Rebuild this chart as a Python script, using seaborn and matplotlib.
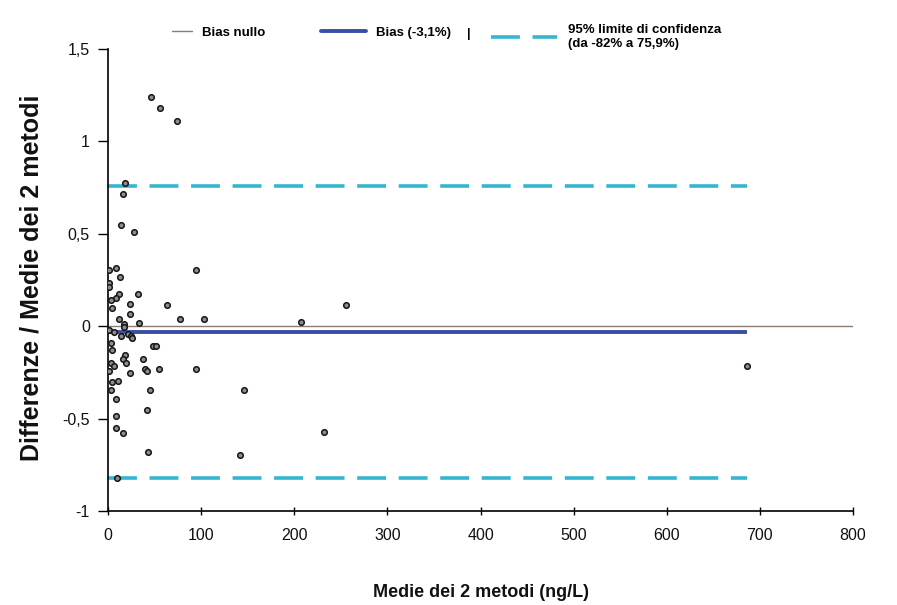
import numpy as np
import pandas as pd
import matplotlib
matplotlib.use("Agg")
import matplotlib.pyplot as plt
import seaborn as sns
from matplotlib.lines import Line2D

# Bland-Altman data: media dei 2 metodi (ng/L) e differenza relativa
media = [46, 56, 74, 18.6, 16.5, 14.3, 28.3, 8.6, 0.7, 94.7,
         12.9, 0.7, 0.7, 32, 12.2, 8.6, 3.2, 4.3, 24, 24,
         63, 12.2, 33.7, 77.5, 102.6, 17.6, 17.6, 1.4, 6.8, 14,
         21, 24.8, 25.8, 3.2, 48, 51.7, 4.3, 18.6, 15.8, 19.4,
         38, 3.2, 6.8, 0.7, 24, 40, 42, 55, 94.7, 4.3,
         11, 3.2, 45.6, 145.6, 8.6, 42, 8.6, 8.6, 16.5, 43.4,
         142, 9.3, 256, 207, 232, 686]
diff_rel = [1.24, 1.18, 1.11, 0.774, 0.715, 0.55, 0.508, 0.314, 0.305, 0.305,
            0.266, 0.233, 0.215, 0.176, 0.176, 0.155, 0.14, 0.10, 0.122, 0.068,
            0.118, 0.038, 0.018, 0.04, 0.04, 0.01, -0.005, -0.018, -0.03, -0.05,
            -0.043, -0.054, -0.061, -0.09, -0.108, -0.108, -0.13, -0.156, -0.174, -0.196,
            -0.178, -0.196, -0.214, -0.242, -0.255, -0.233, -0.242, -0.233, -0.233, -0.303,
            -0.295, -0.345, -0.345, -0.345, -0.393, -0.453, -0.483, -0.548, -0.578, -0.677,
            -0.695, -0.82, 0.114, 0.023, -0.57, -0.212]

bias = -0.031
lim_sup = 0.759
lim_inf = -0.82
x_max_axis = 800

yticks = [-1, -0.5, 0, 0.5, 1, 1.5]
ytick_labels = ['-1', '-0,5', '0', '0,5', '1', '1,5']
xticks = [0, 100, 200, 300, 400, 500, 600, 700, 800]

df = pd.DataFrame({'media': media, 'diff': diff_rel})

sns.set_style("white")
plt.rcParams['font.family'] = ['Liberation Sans', 'DejaVu Sans']
plt.rcParams['text.color'] = 'black'

fig = plt.figure(figsize=(8.97, 6.05), dpi=100)
ax = fig.add_axes([0.1204, 0.155, 0.8306, 0.764])

x_end = df['media'].max()
ax.hlines(0, 0, x_max_axis, color='#8a7c72', lw=1.0, zorder=1)
ax.hlines(bias, 0, x_end, color='#3a4ea6', lw=2.8, zorder=2)
for lim in (lim_sup, lim_inf):
    ax.hlines(lim, 0, x_end, color='#35b5cf', lw=2.6, linestyles=(0, (8, 3.5)), zorder=2)

sns.scatterplot(data=df, x='media', y='diff', ax=ax, s=16, color='#8c8c8c',
                edgecolor='#151515', linewidth=1.1, zorder=3, legend=False)

ax.set_xlim(0, x_max_axis)
ax.set_ylim(-1, 1.5)
ax.set_xticks(xticks)
ax.set_xticklabels([str(t) for t in xticks], fontsize=11.5)
ax.set_yticks(yticks)
ax.set_yticklabels(ytick_labels, fontsize=11.5)
ax.tick_params(axis='y', direction='out', length=7, width=1, color='black',
               labelcolor='#111111', pad=6, left=True)
ax.tick_params(axis='x', direction='inout', length=6, width=1, color='black',
               labelcolor='#111111', pad=9, bottom=True)

for s in ['top', 'right']:
    ax.spines[s].set_visible(False)
for s in ['left', 'bottom']:
    ax.spines[s].set_color('black')
    ax.spines[s].set_linewidth(1.2)

ax.set_xlabel('Medie dei 2 metodi (ng/L)', fontsize=13, fontweight='bold', color='#111111')
ax.set_ylabel('Differenze / Medie dei 2 metodi', fontsize=18, fontweight='bold', color='#111111')
ax.xaxis.set_label_coords(0.5, -0.158)
ax.yaxis.set_label_coords(-0.087, 0.505)

# legend, three separate entries across the top
leg_kw = dict(frameon=False, prop={'weight': 'bold', 'size': 9.5}, handletextpad=0.8,
              borderaxespad=0, loc='upper left')
l1 = fig.legend(handles=[Line2D([], [], color='#8a7c72', lw=1.0)], labels=['Bias nullo'],
                handlelength=1.5, bbox_to_anchor=(0.186, 0.965), **leg_kw)
l2 = fig.legend(handles=[Line2D([], [], color='#3a4ea6', lw=2.8)], labels=['Bias (-3,1%)'],
                handlelength=3.4, bbox_to_anchor=(0.352, 0.965), **leg_kw)
l3 = fig.legend(handles=[Line2D([], [], color='#35b5cf', lw=2.6, ls=(0, (8, 3.5)))],
                labels=['95% limite di confidenza\n(da -82% a 75,9%)'],
                handlelength=5.0, bbox_to_anchor=(0.542, 0.969), **leg_kw)
fig.text(0.523, 0.944, '|', fontsize=9, fontweight='bold', ha='center', va='center')

fig.savefig('out.png', dpi=100)
